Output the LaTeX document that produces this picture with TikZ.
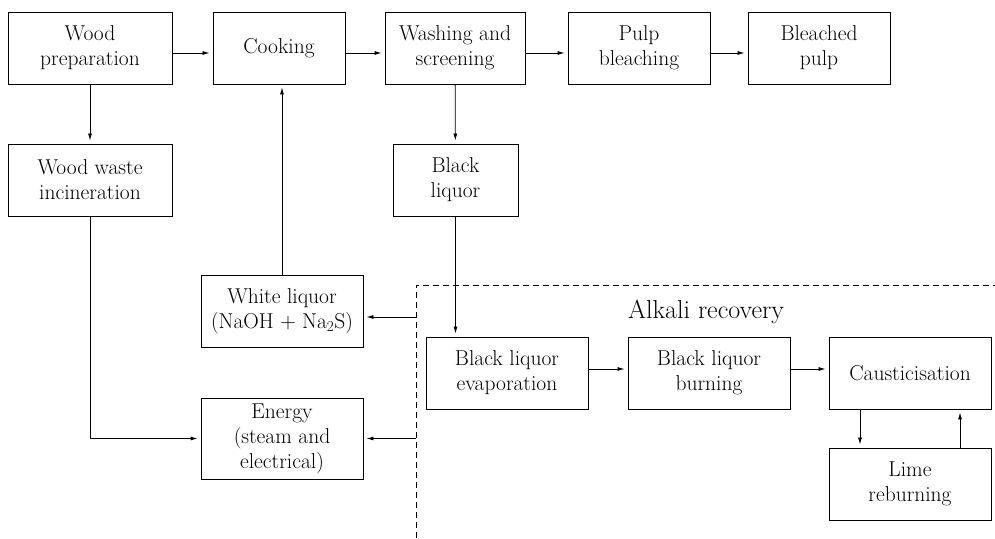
\documentclass[tikz,border=0pt]{standalone}
\usetikzlibrary{arrows.meta}
\begin{document}
\begin{tikzpicture}[x=1pt,y=-1pt,
  box/.style={draw, line width=0.9pt, rectangle, inner sep=0pt, align=center,
    minimum height=72pt, font=\fontsize{21.5}{25}\selectfont},
  flow/.style={line width=0.8pt, shorten >=3pt, -{Latex[length=7pt,width=4pt]}},
  region/.style={line width=0.8pt, dash pattern=on 6pt off 4pt}]
\useasboundingbox (0,0) rectangle (995,538);
% main pulp line
\node[box, minimum width=164pt] (wood)   at (90,48)  {Wood\\preparation};
\node[box, minimum width=132pt] (cook)   at (279,48) {Cooking};
\node[box, minimum width=140pt] (wash)   at (455,48) {Washing and\\screening};
\node[box, minimum width=142pt] (pulp)   at (639,48) {Pulp\\bleaching};
\node[box, minimum width=142pt] (bleach) at (819,48) {Bleached\\pulp};
% by-products
\node[box, minimum width=164pt] (waste)  at (90,180)  {Wood waste\\incineration};
\node[box, minimum width=125pt] (black)  at (455.5,180) {Black\\liquor};
\node[box, minimum width=162pt] (white)  at (282,311) {White liquor\\(NaOH + Na\textsubscript{2}S)};
\node[box, minimum width=162pt, minimum height=81pt] (energy) at (282,438.5) {Energy\\(steam and\\electrical)};
% alkali recovery loop
\node[box, minimum width=162pt] (evap) at (507,373) {Black liquor\\evaporation};
\node[box, minimum width=162pt] (burn) at (709,373) {Black liquor\\burning};
\node[box, minimum width=162pt] (caus) at (910,373) {Causticisation};
\node[box, minimum width=162pt] (lime) at (910,484) {Lime\\reburning};
% dashed boundary of the recovery area
\coordinate (rb) at (416,538);
\coordinate (rc) at (416,285);
\coordinate (rr) at (995,285);
\draw[region] (rb) -- (rc) -- (rr);
\node[font=\fontsize{26}{30}\selectfont] (alk) at (706,312) {Alkali recovery};
% connectors
\draw[flow] ([yshift=-5pt]wood.east) -- ([yshift=-5pt]cook.west);
\draw[flow] ([yshift=-5pt]cook.east) -- ([yshift=-5pt]wash.west);
\draw[flow] ([yshift=-5pt]wash.east) -- ([yshift=-5pt]pulp.west);
\draw[flow] ([yshift=-5pt]pulp.east) -- ([yshift=-5pt]bleach.west);
\draw[flow] (wood) -- (waste);
\draw[flow] (wash) -- (black);
\draw[flow] (white.north) -- (white.north |- cook.south);
\draw[flow] (waste.south) |- (energy.west);
\draw[flow] (black.south) -- (black.south |- evap.north);
\draw[flow] ([yshift=4pt]evap.east) -- ([yshift=4pt]burn.west);
\draw[flow] ([yshift=4pt]burn.east) -- ([yshift=4pt]caus.west);
\draw[flow] ([xshift=-50pt]caus.south) -- ([xshift=-50pt]lime.north);
\draw[flow] ([xshift=50pt]lime.north) -- ([xshift=50pt]caus.south);
\draw[flow] ([yshift=-6pt]rc |- white.east) -- ([yshift=-6pt]white.east);
\draw[flow] (rc |- energy.east) -- (energy.east);
\end{tikzpicture}
\end{document}
